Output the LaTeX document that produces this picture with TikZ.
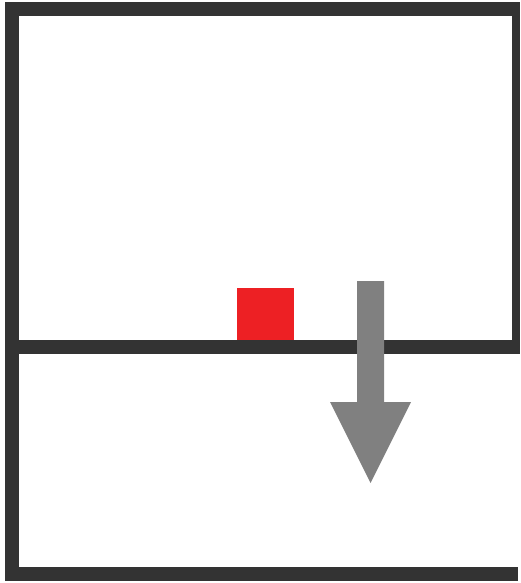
\documentclass[tikz,border=0pt]{standalone}
\definecolor{wallgray}{HTML}{333333}
\definecolor{blockred}{HTML}{ED2024}
\definecolor{arrowgray}{HTML}{808080}

\begin{document}
\begin{tikzpicture}[
    x=1pt, y=-1pt,
    wall/.style={fill=wallgray},
    block/.style={fill=blockred},
    fallarrow/.style={fill=arrowgray}
]
\useasboundingbox (0,0) rectangle (520,583);

% --- Walls ---
\fill[wall] (5,2) rectangle (520,16);      % top
\fill[wall] (5,2) rectangle (19,581);      % left
\fill[wall] (512,2) rectangle (520,354);   % right (upper room only)
\fill[wall] (5,340) rectangle (520,354);   % floor between rooms
\fill[wall] (5,567) rectangle (518,581);   % bottom

% --- Red block on the floor ---
\fill[block] (237,288) rectangle (294,340);

% --- Downward arrow ---
\fill[fallarrow] (357,281) -- (384,281) -- (384,402) -- (411,402)
    -- (370.5,483) -- (330,402) -- (357,402) -- cycle;

\end{tikzpicture}
\end{document}
